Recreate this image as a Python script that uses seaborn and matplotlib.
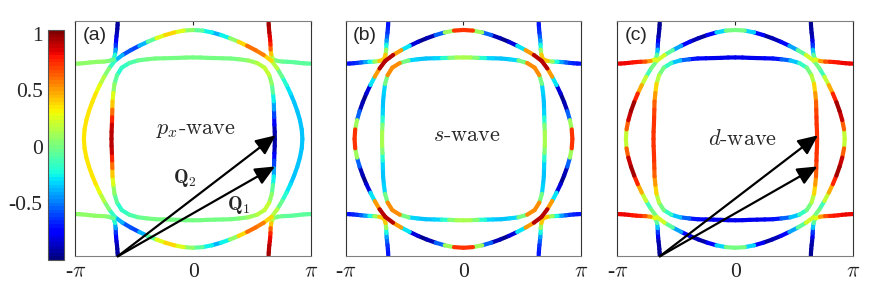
import numpy as np
import pandas as pd
import seaborn as sns
import matplotlib.pyplot as plt
from matplotlib.colors import Normalize
from matplotlib.cm import ScalarMappable

# sample angles inside one quadrant (degrees); the other quadrants are mirrored
theta_deg = np.arange(0, 91, 5)

# Fermi sheet radii in units of pi
gamma_r = [0.927, 0.925, 0.920, 0.915, 0.912, 0.912, 0.915, 0.922, 0.932, 0.940,
           0.932, 0.922, 0.915, 0.912, 0.912, 0.915, 0.920, 0.925, 0.927]
beta_r = [0.693, 0.695, 0.700, 0.712, 0.730, 0.755, 0.782, 0.815, 0.843, 0.857,
          0.843, 0.815, 0.782, 0.755, 0.730, 0.712, 0.700, 0.695, 0.693]
# alpha pocket, radius measured from the (pi, pi) corner
alpha_r = [0.360, 0.360, 0.362, 0.366, 0.372, 0.382, 0.397, 0.418, 0.440, 0.457,
           0.440, 0.418, 0.397, 0.382, 0.372, 0.366, 0.362, 0.360, 0.360]

# colour values along each sheet (first quadrant)
a_gamma = [-0.35, -0.35, -0.35, -0.35, -0.35, -0.35, -0.25, -0.10, 0.05, 0.25,
           0.50, 0.65, 0.55, 0.20, -0.10, -0.40, -0.35, -0.15, 0.00]
a_beta = [-0.95, -0.92, -0.85, -0.70, -0.50, -0.35, -0.15, 0.00, 0.15, 0.22,
          0.12, 0.05, 0.02, 0.00, 0.00, 0.00, 0.00, 0.00, 0.00]
a_alpha = [0.95, 0.95, 0.92, 0.90, 0.85, 0.80, 0.70, 0.55, 0.30, 0.05,
           -0.02, -0.05, -0.05, -0.05, -0.05, -0.05, -0.05, -0.05, -0.05]

b_gamma = [0.95, 0.50, -0.30, -0.80, -0.95, -0.95, -0.70, 0.15, 0.90, 0.95,
           0.90, 0.15, -0.70, -0.95, -0.95, -0.80, -0.30, 0.50, 0.95]
b_beta = [0.18, 0.10, -0.05, -0.30, -0.35, -0.35, -0.35, -0.30, 0.30, 0.80,
          0.30, -0.30, -0.35, -0.35, -0.35, -0.30, -0.05, 0.10, 0.18]
b_alpha = [-0.70, -0.70, -0.70, -0.65, -0.60, -0.50, -0.35, -0.10, 0.30, 0.50,
           0.30, -0.10, -0.35, -0.50, -0.60, -0.65, -0.70, -0.70, -0.70]

c_gamma = [0.00, 0.40, 0.85, 0.95, 0.95, 0.60, 0.35, 0.05, -0.30, 0.30,
           0.15, -0.25, -0.60, -0.85, -0.95, -0.90, -0.55, -0.10, 0.10]
c_beta = [0.72, 0.72, 0.72, 0.72, 0.70, 0.60, 0.45, 0.30, 0.05, -0.05,
          -0.25, -0.45, -0.65, -0.75, -0.78, -0.80, -0.80, -0.80, -0.80]
c_alpha = [-0.95, -0.95, -0.95, -0.92, -0.90, -0.85, -0.75, -0.50, -0.20, 0.10,
           0.40, 0.60, 0.75, 0.80, 0.80, 0.82, 0.82, 0.82, 0.82]

panel_labels = ['(a)', '(b)', '(c)']
wave_labels = [r'$p_x$-wave', r'$s$-wave', r'$d$-wave']
wave_pos = [(0.02, 0.075), (0.03, 0.03), (0.06, 0.0)]
tick_labels = [r'-$\pi$', '0', r'$\pi$']
cbar_ticks = [-0.5, 0, 0.5, 1]
cbar_labels = ['-0.5', '0', '0.5', '1']

# Q vectors (panels a and c), units of pi
q_start = (-0.64, -1.0)
q1_end = (0.695, -0.235)
q2_end = (0.70, 0.03)


def sheet_frame(vals, radius, corner, odd_x, seg0):
    th = np.deg2rad(theta_deg)
    r = np.asarray(radius)
    v = np.asarray(vals)
    rows = []
    seg = seg0
    for sx in (1, -1):
        for sy in (1, -1):
            if corner:
                kx = sx * (1 - r * np.cos(th))
                ky = sy * (1 - r * np.sin(th))
            else:
                kx = sx * r * np.cos(th)
                ky = sy * r * np.sin(th)
            vq = v * sx if odd_x else v
            for i in range(len(th) - 1):
                c = 0.5 * (vq[i] + vq[i + 1])
                rows.append((kx[i], ky[i], c, seg))
                rows.append((kx[i + 1], ky[i + 1], c, seg))
                seg += 1
    return pd.DataFrame(rows, columns=['kx', 'ky', 'val', 'seg']), seg


sns.set_style('white')
plt.rcParams['font.family'] = ['Liberation Serif', 'DejaVu Serif']
plt.rcParams['mathtext.fontset'] = 'cm'

cmap = plt.get_cmap('jet', 64)
norm = Normalize(vmin=-1.0, vmax=1.035)

fig = plt.figure(figsize=(8.86, 2.89), dpi=100)
boxes = [[0.085, 0.113, 0.266, 0.813],
         [0.3905, 0.113, 0.2652, 0.813],
         [0.6967, 0.113, 0.2664, 0.813]]

panel_vals = [(a_gamma, a_beta, a_alpha), (b_gamma, b_beta, b_alpha), (c_gamma, c_beta, c_alpha)]

for p, (gv, bv, av) in enumerate(panel_vals):
    ax = fig.add_axes(boxes[p])
    odd = (p == 0)
    seg = 0
    frames = []
    for vals, rad, corner in ((gv, gamma_r, False), (bv, beta_r, False), (av, alpha_r, True)):
        df, seg = sheet_frame(vals, rad, corner, odd, seg)
        frames.append(df)
    df = pd.concat(frames, ignore_index=True)
    sns.lineplot(data=df, x='kx', y='ky', hue='val', units='seg', estimator=None,
                 sort=False, palette=cmap, hue_norm=norm, legend=False,
                 lw=3.0, solid_capstyle='round', ax=ax)
    ax.set_xlim(-1, 1)
    ax.set_ylim(-1, 1)
    ax.set_xlabel('')
    ax.set_ylabel('')
    ax.set_xticks([-1, 0, 1])
    ax.set_xticklabels(tick_labels, fontsize=15.5)
    ax.set_yticks([])
    ax.tick_params(axis='x', direction='in', length=3, top=True, pad=5, colors='#222222')
    for side in ('top', 'bottom'):
        ax.spines[side].set_color('#808080')
    for side in ('left', 'right'):
        ax.spines[side].set_color('#333333')
    for s in ax.spines.values():
        s.set_linewidth(0.8)

    ax.text(0.03, 0.975, panel_labels[p], transform=ax.transAxes, ha='left', va='top',
            fontsize=14, family='Liberation Sans')
    ax.text(wave_pos[p][0], wave_pos[p][1], wave_labels[p], ha='center', va='center',
            fontsize=16, family='cmr10')

    if p != 1:
        for tip in (q1_end, q2_end):
            ax.annotate('', xy=tip, xytext=q_start,
                        arrowprops=dict(arrowstyle='-|>,head_length=1.0,head_width=0.45',
                                        color='k', lw=1.6, shrinkA=0, shrinkB=0,
                                        mutation_scale=12), zorder=5)
    if p == 0:
        ax.text(-0.07, -0.33, r'$\mathbf{Q}_2$', ha='center', va='center', fontsize=14)
        ax.text(0.385, -0.56, r'$\mathbf{Q}_1$', ha='center', va='center', fontsize=14)

cax = fig.add_axes([0.0545, 0.1003, 0.018, 0.796])
cb = fig.colorbar(ScalarMappable(norm=norm, cmap=cmap), cax=cax)
cb.set_ticks(cbar_ticks)
cb.set_ticklabels(cbar_labels)
cax.yaxis.set_ticks_position('left')
cax.tick_params(direction='in', length=3, labelsize=15.5, pad=4)
cb.outline.set_edgecolor('#555555')
cb.outline.set_linewidth(0.8)

fig.savefig('out.png', dpi=100)
